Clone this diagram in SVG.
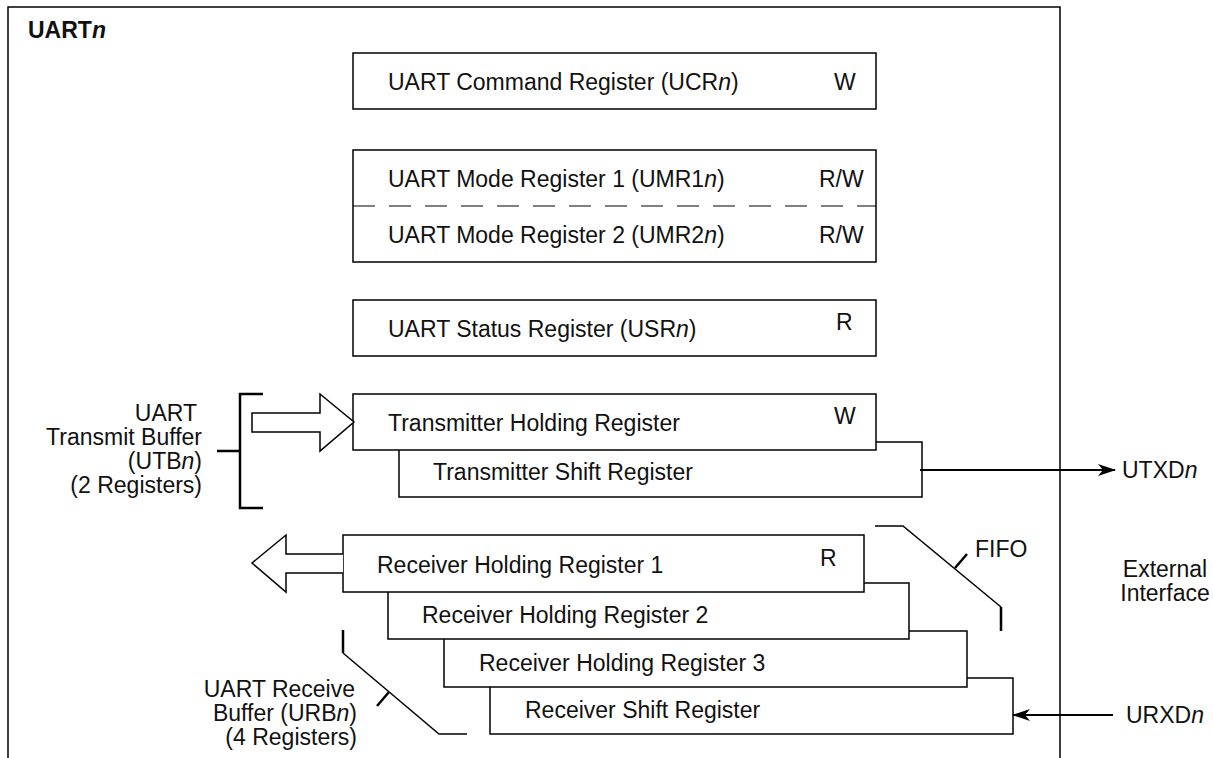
<svg xmlns="http://www.w3.org/2000/svg" width="1213" height="758" viewBox="0 0 1213 758">
<defs>
<style>
text{font-family:"Liberation Sans",Arial,Helvetica,sans-serif;font-size:23px;fill:#111}
.b{fill:#fff;stroke:#000;stroke-width:1.5}
.ln{fill:none;stroke:#000;stroke-width:1.5}
.thick{fill:none;stroke:#000;stroke-width:2.5}
.i{font-style:italic}
.r{text-anchor:end}
.c{text-anchor:middle}
</style>
<marker id="ah" viewBox="0 0 18 12" refX="17" refY="6" markerWidth="18" markerHeight="12" markerUnits="userSpaceOnUse" orient="auto">
<path d="M0,0 L18,6 L0,12 L5,6 Z" fill="#000"/>
</marker>
</defs>
<rect width="1213" height="758" fill="#fff"/>
<g id="frame">
<path class="ln" d="M8,760 L8,7 L1060,7 L1060,760"/>
<text x="28" y="38" style="font-weight:bold">UART<tspan class="i">n</tspan></text>
</g>
<g id="ucr">
<rect class="b" x="353" y="53" width="523" height="56"/>
<text x="388" y="90">UART Command Register (UCR<tspan class="i">n</tspan>)</text>
<text x="834" y="90">W</text>
</g>
<g id="umr">
<rect class="b" x="353" y="150" width="523" height="112"/>
<line x1="353" y1="206" x2="876" y2="206" stroke="#000" stroke-width="1.2" stroke-dasharray="22,14"/>
<text x="388" y="187">UART Mode Register 1 (UMR1<tspan class="i">n</tspan>)</text>
<text x="819" y="187">R/W</text>
<text x="388" y="243">UART Mode Register 2 (UMR2<tspan class="i">n</tspan>)</text>
<text x="819" y="243">R/W</text>
</g>
<g id="usr">
<rect class="b" x="353" y="300" width="523" height="56"/>
<text x="388" y="337">UART Status Register (USR<tspan class="i">n</tspan>)</text>
<text x="836" y="330">R</text>
</g>
<g id="tsr">
<rect class="b" x="399" y="442" width="523" height="55"/>
<text x="433" y="480">Transmitter Shift Register</text>
</g>
<g id="thr">
<rect class="b" x="353" y="394" width="523" height="56"/>
<text x="388" y="431">Transmitter Holding Register</text>
<text x="834" y="424">W</text>
</g>
<g id="utb">
<path class="thick" d="M263,394 L240,394 L240,508 L263,508 M217,451 L240,451"/>
<text class="r" x="197" y="421">UART</text>
<text class="r" x="202" y="445">Transmit Buffer</text>
<text class="r" x="202" y="469">(UTB<tspan class="i">n</tspan>)</text>
<text class="r" x="202" y="493">(2 Registers)</text>
</g>
<g id="rsr">
<rect class="b" x="490" y="678" width="523" height="56"/>
<text x="525" y="718">Receiver Shift Register</text>
</g>
<g id="rhr3">
<rect class="b" x="444" y="631" width="523" height="56"/>
<text x="479" y="671">Receiver Holding Register 3</text>
</g>
<g id="rhr2">
<rect class="b" x="388" y="583" width="521" height="56"/>
<text x="422" y="623">Receiver Holding Register 2</text>
</g>
<g id="rhr1">
<rect class="b" x="343" y="535" width="521" height="57"/>
<text x="377" y="573">Receiver Holding Register 1</text>
<text x="820" y="566">R</text>
</g>
<g id="fifo">
<path class="ln" d="M875,526 L903,526 L1001,607"/>
<path class="thick" d="M1001,607 L1001,631 M955,568 L967,554"/>
<text x="975" y="557">FIFO</text>
</g>
<g id="urb">
<path class="thick" d="M343,630 L343,653"/>
<path class="ln" d="M343,653 L439,734 L467,734"/>
<path class="thick" d="M389,692 L377,706"/>
<text class="r" x="355" y="697">UART Receive</text>
<text class="r" x="357" y="721">Buffer (URB<tspan class="i">n</tspan>)</text>
<text class="r" x="357" y="745">(4 Registers)</text>
</g>
<g id="ext">
<text class="c" x="1165" y="577">External</text>
<text class="c" x="1165" y="601">Interface</text>
<text x="1122" y="478">UTXD<tspan class="i">n</tspan></text>
<text x="1126" y="723">URXD<tspan class="i">n</tspan></text>
</g>
<g id="connectors">
<polygon points="252,413 320,413 320,394 354,422 320,451 320,432 252,432" fill="#fff" stroke="#000" stroke-width="1.5"/>
<polyline points="343,554 286,554 286,535 252,563 286,592 286,573 343,573" fill="#fff" stroke="#000" stroke-width="1.5"/>
<line x1="920" y1="470" x2="1115" y2="470" stroke="#000" stroke-width="2.2" marker-end="url(#ah)"/>
<line x1="1113" y1="715" x2="1013" y2="715" stroke="#000" stroke-width="2.2" marker-end="url(#ah)"/>
</g>
</svg>
